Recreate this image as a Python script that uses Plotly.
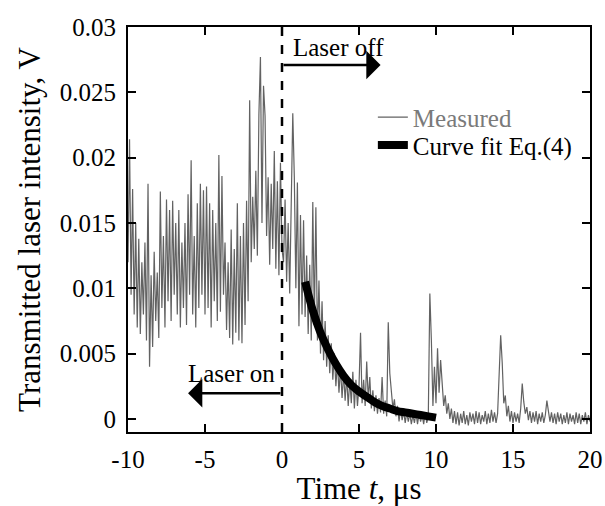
import plotly.graph_objects as go

# ---- data ----
t_start = -10.0
t_step = 0.1

measured_v = [
    # -10.0 .. -5.0
    0.0120, 0.0214, 0.0095, 0.0176, 0.0080, 0.0150, 0.0070, 0.0138, 0.0065, 0.0120,
    0.0080, 0.0135, 0.0060, 0.0180, 0.0040, 0.0110, 0.0055, 0.0128, 0.0075, 0.0112,
    0.0062, 0.0174, 0.0085, 0.0140, 0.0070, 0.0168, 0.0090, 0.0160, 0.0075, 0.0167,
    0.0095, 0.0150, 0.0080, 0.0160, 0.0070, 0.0135, 0.0085, 0.0150, 0.0072, 0.0172,
    0.0095, 0.0198, 0.0080, 0.0140, 0.0070, 0.0165, 0.0085, 0.0180, 0.0095, 0.0175,
    0.0080,
    # -4.9 .. 0.0
    0.0178, 0.0085, 0.0165, 0.0070, 0.0160, 0.0090, 0.0150, 0.0075, 0.0202, 0.0082,
    0.0186, 0.0095, 0.0135, 0.0068, 0.0120, 0.0062, 0.0145, 0.0057, 0.0130, 0.0066,
    0.0165, 0.0060, 0.0140, 0.0058, 0.0150, 0.0072, 0.0167, 0.0090, 0.0244, 0.0120,
    0.0170, 0.0130, 0.0190, 0.0125, 0.0233, 0.0277, 0.0150, 0.0255, 0.0232, 0.0140,
    0.0185, 0.0118, 0.0180, 0.0130, 0.0205, 0.0115, 0.0182, 0.0110, 0.0196, 0.0130,
    # 0.1 .. 5.0
    0.0120, 0.0168, 0.0105, 0.0150, 0.0096, 0.0165, 0.0234, 0.0185, 0.0100, 0.0181,
    0.0071, 0.0156, 0.0080, 0.0152, 0.0078, 0.0125, 0.0065, 0.0118, 0.0060, 0.0166,
    0.0075, 0.0162, 0.0060, 0.0106, 0.0050, 0.0090, 0.0045, 0.0075, 0.0040, 0.0064,
    0.0035, 0.0058, 0.0030, 0.0050, 0.0025, 0.0044, 0.0020, 0.0040, 0.0016, 0.0035,
    0.0014, 0.0033, 0.0010, 0.0030, 0.0012, 0.0036, 0.0008, 0.0030, 0.0010, 0.0025,
    # 5.1 .. 10.0
    0.0066, 0.0012, 0.0030, 0.0010, 0.0044, 0.0015, 0.0032, 0.0008, 0.0022, 0.0006,
    0.0018, 0.0004, 0.0016, 0.0005, 0.0032, 0.0004, 0.0014, 0.0002, 0.0074, 0.0035,
    0.0022, 0.0008, 0.0015, 0.0002, 0.0010, -0.0002, 0.0008, -0.0001, 0.0006, -0.0003,
    0.0005, -0.0002, 0.0004, -0.0004, 0.0003, -0.0003, 0.0005, -0.0004, 0.0004, -0.0002,
    0.0003, -0.0004, 0.0005, -0.0003, 0.0002, 0.0096, 0.0060, 0.0010, 0.0040, 0.0012,
    # 10.1 .. 15.0
    0.0054, 0.0020, 0.0045, 0.0026, 0.0010, 0.0018, 0.0004, 0.0012, 0.0000, 0.0008,
    -0.0003, 0.0006, -0.0004, 0.0005, -0.0005, 0.0004, -0.0003, 0.0006, -0.0004, 0.0003,
    -0.0005, 0.0005, -0.0002, 0.0004, -0.0004, 0.0006, -0.0003, 0.0005, -0.0004, 0.0003,
    -0.0002, 0.0006, -0.0004, 0.0004, -0.0003, 0.0007, -0.0002, 0.0005, -0.0003, 0.0004,
    0.0033, 0.0064, 0.0043, 0.0012, 0.0018, 0.0002, 0.0010, -0.0002, 0.0006, -0.0003,
    # 15.1 .. 20.0
    0.0005, -0.0002, 0.0004, -0.0003, 0.0008, 0.0027, 0.0013, 0.0004, 0.0009, -0.0001,
    0.0006, -0.0003, 0.0005, -0.0002, 0.0006, -0.0004, 0.0004, -0.0002, 0.0005, -0.0003,
    0.0003, 0.0014, 0.0006, -0.0002, 0.0005, -0.0003, 0.0004, -0.0004, 0.0005, -0.0002,
    0.0004, -0.0004, 0.0003, -0.0003, 0.0005, -0.0004, 0.0004, -0.0002, 0.0003, -0.0004,
    0.0005, -0.0003, 0.0004, -0.0004, 0.0003, -0.0002, 0.0005, -0.0004, 0.0003, -0.0002,
]
time_us = [round(t_start + t_step * i, 1) for i in range(len(measured_v))]

fit_t = [1.5, 2.0, 2.5, 3.0, 3.5, 4.0, 4.5, 5.0, 5.5, 6.0, 6.5, 7.0, 7.5, 8.0, 8.5, 9.0, 9.5, 10.0]
fit_v = [0.0105, 0.0083, 0.0066, 0.0053, 0.0042, 0.0033, 0.0026, 0.0021, 0.0017, 0.0013,
         0.0010, 0.0008, 0.0006, 0.0005, 0.0004, 0.0003, 0.0002, 0.0001]

x_ticks = [-10, -5, 0, 5, 10, 15, 20]
x_tick_text = ["-10", "-5", "0", "5", "10", "15", "20"]
y_ticks = [0, 0.005, 0.01, 0.015, 0.02, 0.025, 0.03]
y_tick_text = ["0", "0.005", "0.01", "0.015", "0.02", "0.025", "0.03"]

FONT = "Liberation Serif"

fig = go.Figure()
fig.add_trace(go.Scatter(
    x=time_us, y=measured_v, mode="lines",
    line=dict(color="#626262", width=1.2),
    name="<span style='color:#7a7a7a'>Measured</span>",
    legend="legend",
))
fig.add_trace(go.Scatter(
    x=fit_t, y=fit_v, mode="lines", line_shape="spline",
    line=dict(color="black", width=8),
    name="Curve fit Eq.(4)",
    legend="legend2",
))

axis_common = dict(
    showline=True, linecolor="black", linewidth=2, mirror="ticks",
    ticks="inside", ticklen=8, tickwidth=2, tickcolor="black",
    showgrid=False, zeroline=False, automargin=False,
    tickfont=dict(family=FONT, size=25, color="black"),
)

fig.update_xaxes(range=[-10, 20], tickvals=x_ticks, ticktext=x_tick_text, ticklabelstandoff=4,
                 title=dict(text="Time <i>t</i>, μs", font=dict(family=FONT, size=31, color="black"),
                            standoff=2),
                 **axis_common)
fig.update_yaxes(range=[-0.001, 0.03], tickvals=y_ticks, ticktext=y_tick_text, ticklabelstandoff=5,
                 title=dict(text="Transmitted laser intensity, V",
                            font=dict(family=FONT, size=31, color="black"), standoff=10),
                 **axis_common)

# dashed line at t = 0
fig.add_shape(type="line", xref="x", yref="paper", x0=0, x1=0, y0=0, y1=1,
              line=dict(color="black", width=2.5, dash="dash"))

# arrows
fig.add_annotation(x=6.4, y=0.0271, ax=0, ay=0.0271, axref="x", ayref="y", xref="x", yref="y",
                   text="", showarrow=True, arrowhead=1, arrowsize=1.9, arrowwidth=2.5,
                   arrowcolor="black")
fig.add_annotation(x=-6.1, y=0.00196, ax=0, ay=0.00196, axref="x", ayref="y", xref="x", yref="y",
                   text="", showarrow=True, arrowhead=1, arrowsize=1.9, arrowwidth=2.5,
                   arrowcolor="black")
fig.add_annotation(x=0.6, y=0.0284, xref="x", yref="y", text="Laser off", showarrow=False,
                   xanchor="left", yanchor="middle", font=dict(family=FONT, size=25, color="black"))
fig.add_annotation(x=-0.3, y=0.00344, xref="x", yref="y", text="Laser on", showarrow=False,
                   xanchor="right", yanchor="middle", font=dict(family=FONT, size=25, color="black"))

legend_common = dict(xanchor="left", yanchor="middle", bgcolor="rgba(0,0,0,0)", borderwidth=0,
                     font=dict(family=FONT, size=25, color="black"), itemwidth=30)
fig.update_layout(
    width=605, height=506,
    margin=dict(l=128, r=15, t=27, b=74),
    paper_bgcolor="white", plot_bgcolor="white",
    font=dict(family=FONT, color="black"),
    legend=dict(x=0.530, y=0.777, **legend_common),
    legend2=dict(x=0.530, y=0.708, **legend_common),
    showlegend=True,
)

fig.write_html("out.html")
